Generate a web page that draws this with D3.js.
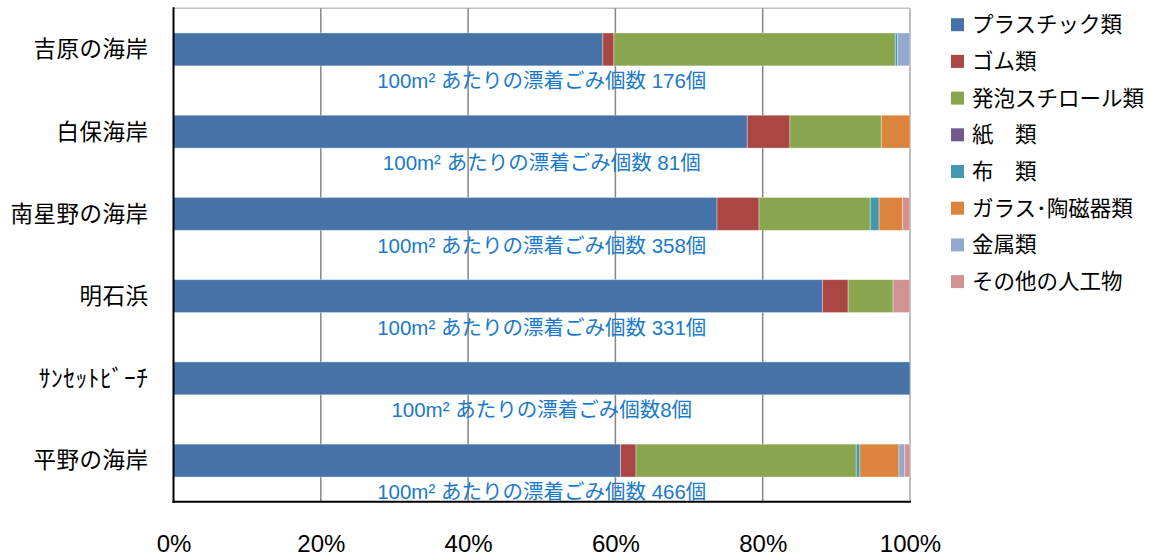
<!DOCTYPE html>
<html><head><meta charset="utf-8">
<script src="https://cdn.jsdelivr.net/npm/d3@7"></script>
<style>
html,body{margin:0;padding:0;background:#fff;}
svg{display:block;}
</style></head>
<body><svg id="chart" width="1162" height="560"></svg>
<script>
const categories = ["吉原の海岸","白保海岸","南星野の海岸","明石浜","ｻﾝｾｯﾄﾋﾞｰﾁ","平野の海岸"];
const seriesNames = ["プラスチック類","ゴム類","発泡スチロール類","紙　類","布　類","ガラス･陶磁器類","金属類","その他の人工物"];
const plastic = [58.3, 77.9, 73.8, 88.1, 100, 60.7];
const rubber  = [1.5, 5.8, 5.7, 3.5, 0, 2.1];
const foam    = [38.2, 12.4, 15.1, 6.1, 0, 29.9];
const paper   = [0, 0, 0, 0, 0, 0];
const cloth   = [0.3, 0, 1.2, 0, 0, 0.5];
const glass   = [0, 3.9, 3.2, 0, 0, 5.3];
const metal   = [1.7, 0, 0, 0, 0, 0.8];
const other   = [0, 0, 1.0, 2.3, 0, 0.7];
const counts  = [176, 81, 358, 331, 8, 466];
const noteLabels = [
  "100m² あたりの漂着ごみ個数 176個",
  "100m² あたりの漂着ごみ個数 81個",
  "100m² あたりの漂着ごみ個数 358個",
  "100m² あたりの漂着ごみ個数 331個",
  "100m² あたりの漂着ごみ個数8個",
  "100m² あたりの漂着ごみ個数 466個"
];
const xTicks = [0, 0.2, 0.4, 0.6, 0.8, 1.0];
const colors = ["#4572A7","#AA4643","#89A54E","#71588F","#4198AF","#DB843D","#93A9CF","#D19392"];

const seriesValues = [plastic, rubber, foam, paper, cloth, glass, metal, other];
const keys = seriesNames;
const rows = categories.map((c, i) => {
  const r = {cat: c};
  keys.forEach((k, j) => r[k] = seriesValues[j][i]);
  return r;
});
const stacked = d3.stack().keys(keys).offset(d3.stackOffsetExpand)(rows);

const svg = d3.select("#chart");
const pL = 173.5, pR = 910, pT = 8.3, pB = 501.7;
const x = d3.scaleLinear().domain([0, 1]).range([pL, pR]);
const y = d3.scaleBand().domain(categories).range([pT, pB]).paddingInner(0.6).paddingOuter(0.3);
const color = d3.scaleOrdinal().domain(keys).range(colors);

// plot border (top) light gray
svg.append("line").attr("x1", pL).attr("x2", pR).attr("y1", pT).attr("y2", pT)
  .attr("stroke", "#c0c0c0").attr("stroke-width", 1.5);
// gridlines
svg.append("g").selectAll("line").data(xTicks.slice(1))
  .join("line")
  .attr("x1", d => x(d)).attr("x2", d => x(d))
  .attr("y1", pT).attr("y2", pB)
  .attr("stroke", d => d === 1 ? "#bdbdbd" : "#868686").attr("stroke-width", d => d === 1 ? 2 : 1.5);

// bars
svg.append("g").selectAll("g").data(stacked).join("g")
  .attr("fill", d => color(d.key))
  .selectAll("rect").data(d => d.filter(s => s[1] - s[0] > 0)).join("rect")
  .attr("x", d => x(d[0]))
  .attr("width", d => x(d[1]) - x(d[0]))
  .attr("y", d => y(d.data.cat))
  .attr("height", y.bandwidth())
  .attr("stroke", "#ffffff").attr("stroke-opacity", 0.45).attr("stroke-width", 0.8);

// axes lines
svg.append("line").attr("x1", pL).attr("x2", pL).attr("y1", pT - 1).attr("y2", pB + 1)
  .attr("stroke", "#000").attr("stroke-width", 2);
svg.append("line").attr("x1", pL - 1).attr("x2", pR + 1).attr("y1", pB).attr("y2", pB)
  .attr("stroke", "#000").attr("stroke-width", 2);

// x tick labels
const xAxis = d3.axisBottom(x).tickValues(xTicks).tickFormat(d3.format(".0%")).tickSize(0).tickPadding(0);
const gx = svg.append("g").attr("transform", `translate(0,${pB})`).call(xAxis);
gx.select(".domain").remove();
gx.selectAll("text").attr("y", 42).attr("dy", "0.35em")
  .attr("font-family", "'Liberation Sans', Arial, sans-serif").attr("font-size", 24).attr("fill", "#000");

// category labels
const yAxis = d3.axisLeft(y).tickSize(0).tickPadding(0);
const gy = svg.append("g").attr("transform", `translate(${pL},0)`).call(yAxis);
gy.select(".domain").remove();
gy.selectAll("text").attr("x", -25).attr("dy", "0.35em")
  .attr("font-family", "'Noto Sans CJK JP', sans-serif")
  .attr("font-size", d => d === "ｻﾝｾｯﾄﾋﾞｰﾁ" ? 23.5 : 22.5)
  .attr("letter-spacing", d => d === "ｻﾝｾｯﾄﾋﾞｰﾁ" ? "0.5px" : "0.5px")
  .attr("fill", "#000");

// annotations
svg.append("g").selectAll("text").data(categories).join("text")
  .attr("x", (pL + pR) / 2)
  .attr("y", d => y(d) + y.bandwidth() + 15)
  .attr("dy", "0.35em")
  .attr("text-anchor", "middle")
  .attr("font-family", "'Liberation Sans', 'Noto Sans CJK JP', sans-serif")
  .attr("font-size", 20.5)
  .attr("fill", "#1B7AC9")
  .text((d, i) => noteLabels[i]);

// legend
const lg = svg.append("g").selectAll("g").data(keys).join("g")
  .attr("transform", (d, i) => `translate(951,${24.7 + i * 36.7})`);
lg.append("rect").attr("x", 0).attr("y", -6.5).attr("width", 13).attr("height", 13)
  .attr("fill", d => color(d));
lg.append("text").attr("x", 21).attr("dy", "0.35em")
  .attr("font-family", "'Noto Sans CJK JP', sans-serif").attr("font-size", 21.5).attr("fill", "#000")
  .text(d => d);
</script>
</body></html>
